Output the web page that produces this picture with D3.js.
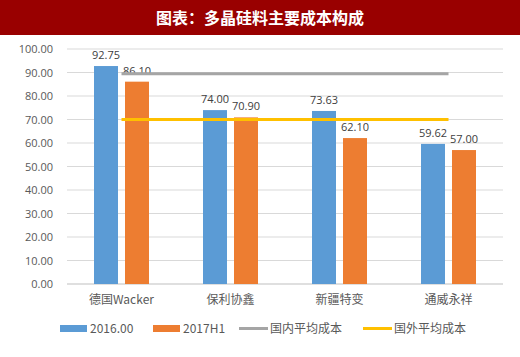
<!DOCTYPE html>
<html><head><meta charset="utf-8">
<script src="https://cdn.jsdelivr.net/npm/d3@7"></script>
<style>body{margin:0;background:#fff;}svg{display:block;font-family:"Noto Sans CJK SC","Open Sans",sans-serif;}</style>
</head><body><svg id="c" width="520" height="357"></svg>
<script>
const title = "图表：多晶硅料主要成本构成";
const categories = ["德国Wacker","保利协鑫","新疆特变","通威永祥"];
const series2016 = [92.75, 74.00, 73.63, 59.62];
const series2017 = [86.10, 70.90, 62.10, 57.00];
const domesticAvg = 89.5;
const foreignAvg = 70.0;
const yTicks = [0,10,20,30,40,50,60,70,80,90,100];
const seriesNames = ["2016.00","2017H1","国内平均成本","国外平均成本"];
const colors = ["#5b9bd5","#ed7d31","#a5a5a5","#ffc000"];

const svg = d3.select("#c");
svg.append("rect").attr("x",0).attr("y",0).attr("width",520).attr("height",35).attr("fill","#990000");
svg.append("text").attr("x",260).attr("y",24).attr("text-anchor","middle").attr("fill","#fff")
  .attr("font-size",16).attr("font-weight","bold").text(title);

const x = d3.scaleBand().domain(categories).range([67,503]);
const y = d3.scaleLinear().domain([0,100]).range([284,49]);

const g = svg.append("g");
g.selectAll(".grid").data(yTicks).join("line")
  .attr("x1",67).attr("x2",503).attr("y1",d=>y(d)).attr("y2",d=>y(d))
  .attr("stroke",d=>d===0?"#bfbfbf":"#d9d9d9").attr("stroke-width",1);
g.selectAll(".yl").data(yTicks).join("text")
  .attr("x",53).attr("y",d=>y(d)+4).attr("text-anchor","end")
  .attr("font-size",11).attr("fill","#595959").attr("font-family","Open Sans, sans-serif")
  .text(d=>d.toFixed(2));

const bw = 24, gap = 7;
const cx = c => x(c)+x.bandwidth()/2;
[series2016, series2017].forEach((s,i)=>{
  const off = i===0 ? -gap/2-bw : gap/2;
  g.selectAll(".b"+i).data(s).join("rect")
    .attr("x",(d,j)=>cx(categories[j])+off).attr("width",bw)
    .attr("y",d=>y(d)).attr("height",d=>y(0)-y(d)).attr("fill",colors[i]);
  g.selectAll(".l"+i).data(s).join("text")
    .attr("x",(d,j)=>cx(categories[j])+off+bw/2).attr("y",d=>y(d)-7)
    .attr("text-anchor","middle").attr("font-size",11).attr("fill","#404040")
    .attr("font-family","Open Sans, sans-serif")
    .text(d=>d.toFixed(2));
});

[[domesticAvg,colors[2]],[foreignAvg,colors[3]]].forEach(([v,c])=>{
  g.append("line").attr("x1",cx(categories[0])).attr("x2",cx(categories[3]))
    .attr("y1",y(v)).attr("y2",y(v)).attr("stroke",c).attr("stroke-width",3);
});

g.selectAll(".cl").data(categories).join("text")
  .attr("x",d=>cx(d)).attr("y",304).attr("text-anchor","middle")
  .attr("font-size",12).attr("fill","#595959").text(d=>d);

const leg = [
  {x:60, type:"rect"}, {x:153, type:"rect"}, {x:239, type:"line"}, {x:363, type:"line"}
];
leg.forEach((l,i)=>{
  if(l.type==="rect") svg.append("rect").attr("x",l.x).attr("y",325).attr("width",27).attr("height",7).attr("fill",colors[i]);
  else svg.append("line").attr("x1",l.x).attr("x2",l.x+29).attr("y1",328.5).attr("y2",328.5).attr("stroke",colors[i]).attr("stroke-width",3);
  svg.append("text").attr("x",l.x+(l.type==="rect"?30:31)).attr("y",333)
    .attr("font-size",12).attr("fill","#595959").text(seriesNames[i]);
});
</script></body></html>
